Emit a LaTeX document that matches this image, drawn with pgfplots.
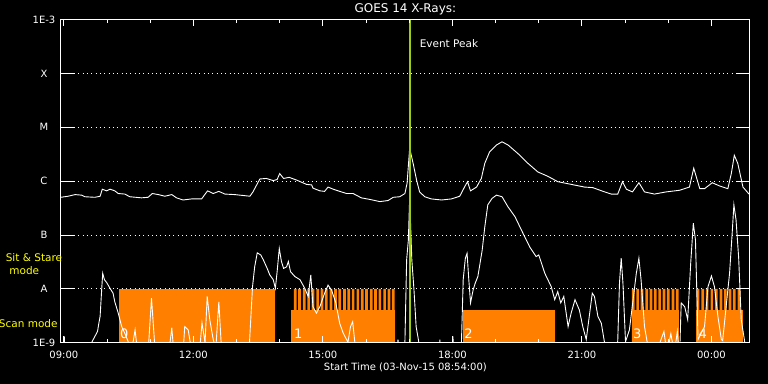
\documentclass[border=0pt]{standalone}
\usepackage{fontspec}
\setmainfont{DejaVu Sans}
\usepackage{pgfplots}
\usepackage{pgfplotstable}
\pgfplotsset{compat=1.18}
\definecolor{orangeC}{RGB}{255,128,0}
\definecolor{peakC}{RGB}{154,205,20}
\definecolor{yel}{RGB}{255,255,0}

% long channel: hours since 0:00 (03-Nov), decades above 1E-9
\pgfplotstableread{
h d
8.93 2.70
9.10 2.72
9.26 2.75
9.41 2.74
9.49 2.71
9.72 2.70
9.84 2.72
9.89 2.85
9.99 2.82
10.07 2.85
10.18 2.82
10.26 2.77
10.41 2.76
10.53 2.71
10.80 2.69
10.95 2.70
11.05 2.77
11.19 2.75
11.34 2.72
11.50 2.75
11.61 2.69
11.76 2.65
11.96 2.67
12.19 2.67
12.33 2.82
12.46 2.77
12.59 2.81
12.73 2.76
12.96 2.75
13.31 2.72
13.38 2.80
13.54 3.04
13.69 3.05
13.85 3.01
13.94 3.03
14.00 3.14
14.09 3.05
14.22 3.07
14.39 3.02
14.62 2.94
14.74 2.93
14.77 2.87
14.93 2.82
15.04 2.81
15.12 2.89
15.24 2.85
15.39 2.81
15.55 2.77
15.70 2.77
15.89 2.69
16.09 2.66
16.32 2.62
16.51 2.64
16.63 2.70
16.78 2.71
16.90 2.77
16.95 2.96
17.01 3.61
17.09 3.33
17.17 3.02
17.24 2.80
17.36 2.71
17.51 2.67
17.75 2.65
17.98 2.67
18.17 2.72
18.28 2.89
18.35 2.99
18.42 2.82
18.56 2.89
18.67 3.05
18.75 3.33
18.86 3.54
19.02 3.67
19.15 3.73
19.29 3.67
19.52 3.51
19.75 3.33
19.98 3.17
20.21 3.09
20.44 2.99
20.75 2.94
21.06 2.89
21.25 2.88
21.49 2.81
21.68 2.76
21.83 2.76
21.94 2.99
22.03 2.85
22.17 2.80
22.32 2.97
22.45 2.80
22.68 2.76
22.95 2.80
23.26 2.83
23.49 2.89
23.59 3.24
23.73 2.86
23.84 2.86
24.02 2.97
24.19 2.91
24.38 2.86
24.46 3.14
24.53 3.48
24.61 3.33
24.73 2.89
24.87 2.76
}\longchan

% short channel
\pgfplotstableread{
h d
8.93 -0.3
9.00 -0.3
9.01 0.12
9.03 -0.3
9.60 -0.3
9.64 0.0
9.78 0.21
9.81 0.36
9.84 0.49
9.88 1.04
9.90 1.29
9.94 1.17
9.99 1.12
10.07 1.01
10.14 0.92
10.18 0.76
10.26 0.55
10.34 0.30
10.41 0.18
10.49 0.02
10.56 -0.2
10.65 0.24
10.71 -0.2
10.95 -0.2
11.03 0.83
11.11 -0.1
11.43 -0.2
11.50 0.28
11.55 -0.2
11.76 -0.2
11.80 0.30
11.88 0.24
11.97 -0.2
12.15 -0.1
12.20 0.37
12.27 0.0
12.32 0.86
12.38 0.43
12.46 0.06
12.52 -0.1
12.59 0.76
12.65 -0.1
12.85 -0.3
13.28 -0.3
13.32 0.30
13.37 1.04
13.42 1.41
13.48 1.67
13.56 1.63
13.62 1.54
13.71 1.38
13.77 1.26
13.85 1.17
13.90 1.01
13.94 1.32
13.99 1.75
14.04 1.51
14.09 1.38
14.16 1.41
14.20 1.51
14.25 1.32
14.35 1.23
14.47 1.17
14.58 1.01
14.66 0.86
14.72 1.26
14.77 0.67
14.85 0.55
14.93 0.67
15.04 0.92
15.12 1.07
15.20 0.98
15.30 0.74
15.39 0.36
15.47 0.18
15.58 0.01
15.64 0.30
15.69 0.39
15.74 0.01
15.79 -0.3
16.69 -0.3
16.74 0.06
16.78 -0.3
16.90 0.02
16.94 1.54
16.98 1.91
17.01 2.69
17.06 1.54
17.11 0.98
17.16 0.30
17.22 0.02
17.26 -0.3
17.68 -0.3
17.71 0.06
17.73 -0.3
17.98 -0.3
18.01 0.12
18.05 -0.3
18.21 0.02
18.25 1.17
18.30 1.57
18.34 1.66
18.38 1.17
18.42 0.74
18.48 0.98
18.53 1.11
18.59 1.23
18.69 1.72
18.75 2.15
18.82 2.56
18.92 2.68
19.02 2.74
19.15 2.71
19.29 2.52
19.45 2.34
19.60 2.09
19.79 1.78
19.94 1.60
20.00 1.63
20.14 1.29
20.29 1.04
20.37 0.80
20.44 0.95
20.51 0.74
20.58 0.86
20.68 0.30
20.75 0.55
20.84 0.80
20.94 0.61
21.02 0.30
21.10 0.06
21.18 0.55
21.24 0.92
21.29 0.86
21.37 0.49
21.45 0.36
21.52 0.02
21.57 -0.3
21.80 -0.3
21.83 0.04
21.87 1.11
21.91 1.57
21.95 1.11
22.01 0.02
22.10 0.24
22.26 1.29
22.32 1.57
22.37 1.17
22.45 0.30
22.51 0.02
22.67 -0.3
22.90 0.21
22.97 -0.2
23.06 0.17
23.14 -0.2
23.21 0.21
23.26 -0.3
23.30 0.74
23.38 0.67
23.45 0.43
23.52 1.48
23.58 2.22
23.63 1.91
23.69 0.06
23.84 0.30
23.92 1.04
24.00 1.24
24.07 1.04
24.15 0.49
24.23 0.06
24.26 0.04
24.42 1.29
24.48 2.03
24.52 2.56
24.57 2.28
24.63 1.59
24.69 0.43
24.77 0.02
24.86 -0.3
24.89 -0.3
}\shortchan

\begin{document}
\begin{tikzpicture}
\useasboundingbox (-61bp,-41bp) rectangle (707.5bp,343bp);
\fill[black] (-61bp,-41bp) rectangle (707.5bp,343bp);
\begin{axis}[
  at={(0,0)}, anchor=south west,
  scale only axis, width=689.3bp, height=323.5bp,
  xmin=8.933, xmax=24.889, ymin=0, ymax=6,
  axis on top,
  axis line style={white, line width=1bp},
  font=\fontsize{10bp}{12bp}\selectfont,
  xtick={9,12,15,18,21,24},
  xticklabels={09:00,12:00,15:00,18:00,21:00,00:00},
  minor xtick={10,11,13,14,16,17,19,20,22,23},
  major tick length=6.5bp, minor tick length=3.5bp,
  tick style={white, line width=1bp},
  ytick={0,1,2,3,4,5,6},
  yticklabels={1E-9,A,B,C,M,X,1E-3},
  ytick style={draw=none},
  ymajorgrids,
  grid style={white, line width=1bp, dash pattern=on 1bp off 3.33bp},
  xticklabel style={white, anchor=center, yshift=-12.5bp},
  yticklabel style={white, anchor=center, xshift=-17bp},
  title={GOES 14 X-Rays:},
  title style={white, font=\fontsize{12bp}{14bp}\selectfont, at={(axis description cs:0.5,1)}, anchor=center, yshift=4.3bp},
  xlabel={Start Time (03-Nov-15 08:54:00)},
  xlabel style={white, at={(axis description cs:0.5,0)}, anchor=center, yshift=-25bp},
]
% Sit & Stare / scan rasters
\addplot[fill=orangeC, draw=none] coordinates {(10.28,0) (10.28,1) (13.89,1) (13.89,0)} --cycle;
\addplot[fill=orangeC, draw=none] coordinates {(14.26,0) (14.26,0.611) (16.66,0.611) (16.66,0)} --cycle;
\addplot[fill=orangeC, draw=none] coordinates {(18.25,0) (18.25,0.611) (20.37,0.611) (20.37,0)} --cycle;
\addplot[fill=orangeC, draw=none] coordinates {(22.15,0) (22.15,0.611) (23.24,0.611) (23.24,0)} --cycle;
\addplot[fill=orangeC, draw=none] coordinates {(23.65,0) (23.65,0.611) (24.74,0.611) (24.74,0)} --cycle;
\addplot[ybar, bar width=0.0625, bar shift=0pt, fill=orangeC, draw=none] coordinates {
(14.36,1) (14.46,1) (14.57,1) (14.67,1) (14.77,1) (14.88,1) (14.98,1) (15.08,1)
(15.19,1) (15.29,1) (15.39,1) (15.50,1) (15.60,1) (15.70,1) (15.81,1) (15.91,1)
(16.01,1) (16.12,1) (16.22,1) (16.32,1) (16.43,1) (16.53,1) (16.63,1)
(22.19,1) (22.29,1) (22.39,1) (22.50,1) (22.60,1) (22.70,1) (22.80,1) (22.90,1)
(23.00,1) (23.11,1) (23.21,1)
(23.69,1) (23.80,1) (23.90,1) (24.01,1) (24.11,1) (24.22,1) (24.32,1) (24.43,1)
(24.53,1) (24.64,1)};
% y ticks on both sides
\pgfplotsinvokeforeach{0,1,2,3,4,5,6}{
  \draw[white, line width=1bp] (axis cs:8.933,#1) -- ([xshift=14bp]axis cs:8.933,#1);
  \draw[white, line width=1bp] (axis cs:24.889,#1) -- ([xshift=-14bp]axis cs:24.889,#1);
}
% GOES curves
\addplot[white, line width=0.9bp] table[x=h, y=d] {\longchan};
\addplot[white, line width=0.9bp] table[x=h, y=d] {\shortchan};
% event peak
\addplot[peakC, line width=2bp] coordinates {(17.01,0) (17.01,6)};
\node[white, anchor=west, inner sep=0pt, font=\fontsize{10.5bp}{12bp}\selectfont] at (axis cs:17.24,5.56) {Event Peak};
% raster numbers
\node[white, anchor=south west, inner sep=0pt, font=\fontsize{13bp}{13bp}\selectfont] at (axis cs:10.30,0.07) {0};
\node[white, anchor=south west, inner sep=0pt, font=\fontsize{13bp}{13bp}\selectfont] at (axis cs:14.33,0.07) {1};
\node[white, anchor=south west, inner sep=0pt, font=\fontsize{13bp}{13bp}\selectfont] at (axis cs:18.27,0.07) {2};
\node[white, anchor=south west, inner sep=0pt, font=\fontsize{13bp}{13bp}\selectfont] at (axis cs:22.18,0.07) {3};
\node[white, anchor=south west, inner sep=0pt, font=\fontsize{13bp}{13bp}\selectfont] at (axis cs:23.70,0.07) {4};
\end{axis}
\node[yel, font=\fontsize{10.5bp}{12bp}\selectfont, inner sep=0pt] at (-27bp,85bp) {Sit \& Stare};
\node[yel, font=\fontsize{10.5bp}{12bp}\selectfont, inner sep=0pt] at (-36.7bp,72bp) {mode};
\node[yel, font=\fontsize{10.5bp}{12bp}\selectfont, inner sep=0pt] at (-32.7bp,19.5bp) {Scan mode};
\end{tikzpicture}
\end{document}
